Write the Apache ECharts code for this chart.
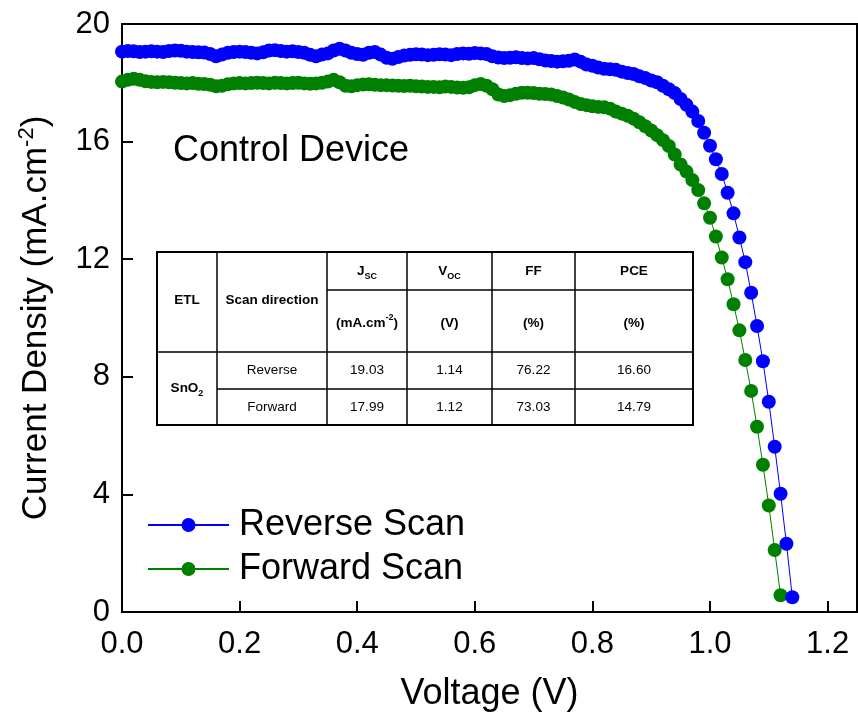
<!DOCTYPE html>
<html>
<head>
<meta charset="utf-8">
<script src="https://cdn.jsdelivr.net/npm/echarts@6/dist/echarts.min.js"></script>
<style>
  html, body { margin: 0; padding: 0; background: #fff; }
  #chart { width: 858px; height: 721px; }
</style>
</head>
<body>
<div id="chart"></div>
<script>
// Applied voltage sweep (V), 10 mV steps
const voltage = [
  0.00, 0.01, 0.02, 0.03, 0.04, 0.05, 0.06, 0.07, 0.08, 0.09,
  0.10, 0.11, 0.12, 0.13, 0.14, 0.15, 0.16, 0.17, 0.18, 0.19,
  0.20, 0.21, 0.22, 0.23, 0.24, 0.25, 0.26, 0.27, 0.28, 0.29,
  0.30, 0.31, 0.32, 0.33, 0.34, 0.35, 0.36, 0.37, 0.38, 0.39,
  0.40, 0.41, 0.42, 0.43, 0.44, 0.45, 0.46, 0.47, 0.48, 0.49,
  0.50, 0.51, 0.52, 0.53, 0.54, 0.55, 0.56, 0.57, 0.58, 0.59,
  0.60, 0.61, 0.62, 0.63, 0.64, 0.65, 0.66, 0.67, 0.68, 0.69,
  0.70, 0.71, 0.72, 0.73, 0.74, 0.75, 0.76, 0.77, 0.78, 0.79,
  0.80, 0.81, 0.82, 0.83, 0.84, 0.85, 0.86, 0.87, 0.88, 0.89,
  0.90, 0.91, 0.92, 0.93, 0.94, 0.95, 0.96, 0.97, 0.98, 0.99,
  1.00, 1.01, 1.02, 1.03, 1.04, 1.05, 1.06, 1.07, 1.08, 1.09,
  1.10, 1.11, 1.12, 1.13, 1.14
];

// Current density (mA/cm2), reverse scan
const reverseJ = [
  19.06, 19.08, 19.07, 19.05, 19.06, 19.07, 19.06, 19.05, 19.08, 19.10,
  19.09, 19.06, 19.05, 19.04, 19.03, 18.98, 18.90, 18.96, 19.02, 19.05,
  19.06, 19.05, 19.02, 19.00, 19.04, 19.10, 19.11, 19.08, 19.06, 19.07,
  19.05, 19.02, 18.95, 18.90, 18.96, 19.00, 19.10, 19.16, 19.10, 19.02,
  18.98, 18.95, 19.02, 19.05, 18.96, 18.85, 18.82, 18.88, 18.93, 18.95,
  18.97, 18.96, 18.94, 18.95, 18.97, 18.96, 18.94, 18.98, 19.00, 18.99,
  19.01, 19.00, 18.98, 18.90, 18.86, 18.84, 18.85, 18.87, 18.84, 18.83,
  18.84, 18.80, 18.76, 18.74, 18.72, 18.73, 18.75, 18.79, 18.72, 18.62,
  18.58, 18.52, 18.48, 18.46, 18.44, 18.38, 18.33, 18.30, 18.22, 18.16,
  18.08, 18.02, 17.90, 17.78, 17.65, 17.45, 17.25, 17.02, 16.70, 16.30,
  15.86, 15.40, 14.90, 14.26, 13.56, 12.74, 11.90, 10.86, 9.73, 8.53,
  7.15, 5.62, 4.02, 2.32, 0.50
];

// Current density (mA/cm2), forward scan
const forwardJ = [
  18.04, 18.10, 18.14, 18.10, 18.05, 18.03, 18.02, 18.03, 18.02, 18.00,
  17.99, 17.98, 17.99, 17.97, 17.96, 17.93, 17.88, 17.90, 17.95, 17.98,
  17.99, 17.98, 17.99, 18.00, 17.99, 17.98, 18.00, 17.99, 17.98, 17.99,
  18.00, 17.98, 17.97, 17.98, 18.00, 18.04, 18.10, 18.02, 17.90, 17.88,
  17.92, 17.94, 17.95, 17.93, 17.92, 17.92, 17.91, 17.90, 17.89, 17.90,
  17.88, 17.87, 17.86, 17.86, 17.85, 17.87, 17.86, 17.84, 17.83, 17.85,
  17.92, 17.96, 17.90, 17.78, 17.60, 17.55, 17.58, 17.63, 17.66, 17.66,
  17.65, 17.63, 17.62, 17.60, 17.55, 17.50, 17.43, 17.35, 17.28, 17.24,
  17.20, 17.18, 17.17, 17.12, 17.02, 16.95, 16.88, 16.78, 16.66, 16.52,
  16.38, 16.22, 16.05, 15.85, 15.56, 15.22, 14.98, 14.69, 14.35, 13.90,
  13.41, 12.77, 12.06, 11.32, 10.47, 9.58, 8.57, 7.52, 6.30, 5.01,
  3.62, 2.11, 0.57
];

const seriesNames = ['Reverse Scan', 'Forward Scan'];
const xTickLabels = ['0.0', '0.2', '0.4', '0.6', '0.8', '1.0', '1.2'];
const yTickLabels = ['0', '4', '8', '12', '16', '20'];

// Photovoltaic parameter table
const tableEtl = 'SnO2';
const scanDirections = ['Reverse', 'Forward'];
const jscValues = ['19.03', '17.99'];
const vocValues = ['1.14', '1.12'];
const ffValues = ['76.22', '73.03'];
const pceValues = ['16.60', '14.79'];

const FONT = 'Liberation Sans, Arial, sans-serif';

function pairs(ys) {
  return ys.map((y, i) => [voltage[i], y]);
}

// ---- table graphic ----
function buildTable() {
  const colX = [157, 217, 327, 407, 492, 575, 693];
  const rowY = [252, 290, 352, 389, 425];
  const els = [];
  const line = (x1, y1, x2, y2, w) => els.push({
    type: 'line', silent: true,
    shape: { x1, y1, x2, y2 },
    style: { stroke: '#000', lineWidth: w || 1.5 }
  });
  const cx = (i) => (colX[i] + colX[i + 1]) / 2;
  const rich = {
    b: { fontFamily: FONT, fontSize: 13.5, fontWeight: 'bold', color: '#000', lineHeight: 20, verticalAlign: 'middle' },
    r: { fontFamily: FONT, fontSize: 13.5, color: '#000', lineHeight: 20, verticalAlign: 'middle' },
    sub: { fontFamily: FONT, fontSize: 9, fontWeight: 'bold', color: '#000', lineHeight: 11, verticalAlign: 'bottom' },
    sup: { fontFamily: FONT, fontSize: 9, fontWeight: 'bold', color: '#000', lineHeight: 11, verticalAlign: 'top' }
  };
  const text = (x, y, t) => els.push({
    type: 'text', silent: true, x, y,
    style: { text: t, rich, align: 'center', verticalAlign: 'middle' }
  });

  // borders
  els.push({
    type: 'rect', silent: true,
    shape: { x: colX[0], y: rowY[0], width: colX[6] - colX[0], height: rowY[4] - rowY[0] },
    style: { fill: '#fff', stroke: '#000', lineWidth: 2 }
  });
  for (let i = 1; i < 6; i++) line(colX[i], rowY[0], colX[i], rowY[4]);
  line(colX[2], rowY[1], colX[6], rowY[1]);
  line(colX[0], rowY[2], colX[6], rowY[2]);
  line(colX[1], rowY[3], colX[6], rowY[3]);

  const hTop = (rowY[0] + rowY[1]) / 2;
  const hUnit = (rowY[1] + rowY[2]) / 2 + 2;
  const hMid = (rowY[0] + rowY[2]) / 2 - 2;

  text(cx(0), hMid, '{b|ETL}');
  text(cx(1), hMid, '{b|Scan direction}');
  text(cx(2), hTop, '{b|J}{sub|SC}');
  text(cx(3), hTop, '{b|V}{sub|OC}');
  text(cx(4), hTop, '{b|FF}');
  text(cx(5), hTop, '{b|PCE}');
  text(cx(2), hUnit, '{b|(mA.cm}{sup|-2}{b|)}');
  text(cx(3), hUnit, '{b|(V)}');
  text(cx(4), hUnit, '{b|(%)}');
  text(cx(5), hUnit, '{b|(%)}');

  text(cx(0), rowY[3] - 1, '{b|' + tableEtl.slice(0, 3) + '}{sub|' + tableEtl.slice(3) + '}');
  for (let r = 0; r < 2; r++) {
    const y = (rowY[2 + r] + rowY[3 + r]) / 2;
    text(cx(1), y, '{r|' + scanDirections[r] + '}');
    text(cx(2), y, '{r|' + jscValues[r] + '}');
    text(cx(3), y, '{r|' + vocValues[r] + '}');
    text(cx(4), y, '{r|' + ffValues[r] + '}');
    text(cx(5), y, '{r|' + pceValues[r] + '}');
  }
  return els;
}

const chart = echarts.init(document.getElementById('chart'), null, { renderer: 'canvas' });

chart.setOption({
  backgroundColor: '#fff',
  animation: false,
  title: {
    text: 'Control Device',
    left: 168, top: 128,
    textStyle: { fontFamily: FONT, fontSize: 36, fontWeight: 'normal', color: '#000' }
  },
  legend: {
    data: seriesNames,
    orient: 'vertical',
    left: 147, top: 507,
    padding: 0,
    itemWidth: 81, itemHeight: 17.5,
    itemGap: 8,
    textStyle: { fontFamily: FONT, fontSize: 36, color: '#000', padding: [0, 0, 0, 5] }
  },
  grid: {
    left: 122, right: 1, top: 24, bottom: 109,
    show: true, borderColor: '#000', borderWidth: 2, backgroundColor: 'transparent'
  },
  xAxis: {
    type: 'value', min: 0, max: 1.25, interval: 0.2,
    name: 'Voltage (V)', nameLocation: 'middle', nameGap: 64,
    nameTextStyle: { fontFamily: FONT, fontSize: 36, color: '#000' },
    axisLine: { show: true, lineStyle: { color: '#000', width: 2 } },
    axisTick: { show: true, inside: true, length: 11, lineStyle: { color: '#000', width: 2 } },
    axisLabel: {
      fontFamily: FONT, fontSize: 31, color: '#000', margin: 17,
      showMaxLabel: false,
      formatter: (v) => xTickLabels[Math.round(v / 0.2)] || ''
    },
    splitLine: { show: false }
  },
  yAxis: {
    type: 'value', min: 0, max: 20, interval: 4,
    name: '{t|Current Density (mA.cm}{s|-2}{t|)}',
    nameLocation: 'middle', nameGap: 66,
    nameTextStyle: {
      rich: {
        t: { fontFamily: FONT, fontSize: 35, color: '#000', lineHeight: 40, verticalAlign: 'middle' },
        s: { fontFamily: FONT, fontSize: 22, color: '#000', lineHeight: 24, verticalAlign: 'top' }
      }
    },
    axisLine: { show: true, lineStyle: { color: '#000', width: 2 } },
    axisTick: { show: true, inside: true, length: 11, lineStyle: { color: '#000', width: 2 } },
    axisLabel: {
      fontFamily: FONT, fontSize: 31, color: '#000', margin: 12,
      formatter: (v) => yTickLabels[Math.round(v / 4)] || ''
    },
    splitLine: { show: false }
  },
  series: [
    {
      name: seriesNames[1], type: 'line', data: pairs(forwardJ),
      symbol: 'circle', symbolSize: 14, showSymbol: true,
      color: '#008000',
      lineStyle: { color: '#008000', width: 1 },
      itemStyle: { color: '#008000' }
    },
    {
      name: seriesNames[0], type: 'line', data: pairs(reverseJ),
      symbol: 'circle', symbolSize: 14, showSymbol: true,
      color: '#0000ff',
      lineStyle: { color: '#0000ff', width: 1 },
      itemStyle: { color: '#0000ff' }
    }
  ],
  graphic: [{ type: 'group', z: 100, children: buildTable() }]
});
</script>
</body>
</html>
